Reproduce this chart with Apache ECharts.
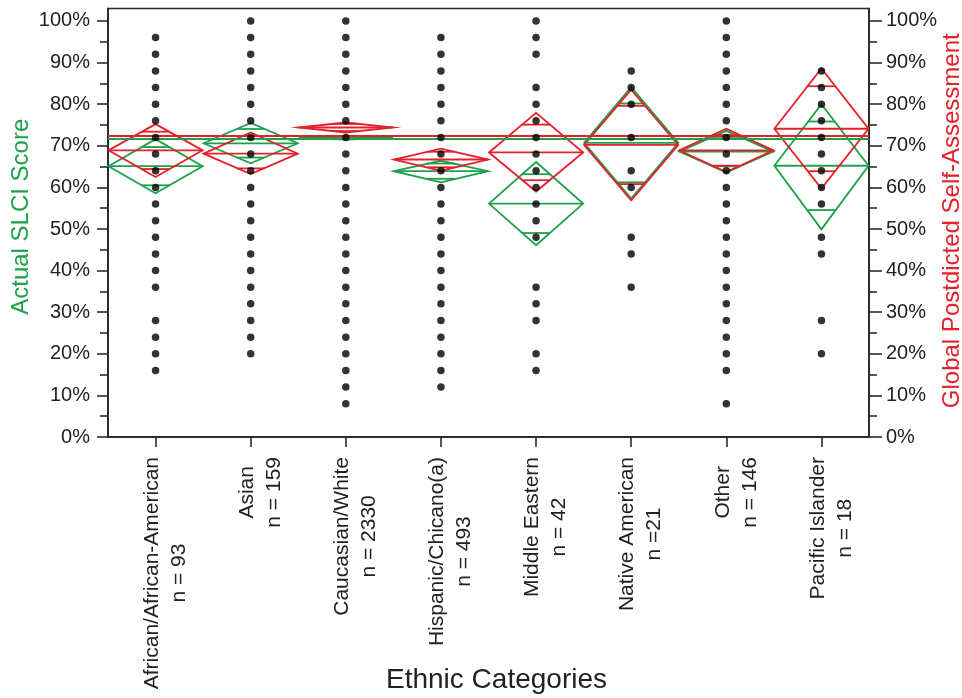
<!DOCTYPE html>
<html>
<head>
<meta charset="utf-8">
<script src="https://cdn.jsdelivr.net/npm/echarts@6/dist/echarts.min.js"></script>
<style>
html,body{margin:0;padding:0;background:#fff;}
#chart{width:962px;height:698px;}
</style>
</head>
<body>
<div id="chart"></div>
<script>
// ---- data ----
const categories = ['African/African-American', 'Asian', 'Caucasian/White', 'Hispanic/Chicano(a)', 'Middle Eastern', 'Native American', 'Other', 'Pacific Islander'];
const sampleLabels = ['n = 93', 'n = 159', 'n = 2330', 'n = 493', 'n = 42', 'n =21', 'n = 146', 'n = 18'];

// Actual SLCI score: group mean and 95% CI (green diamonds)
const actualMean  = [65.1, 70.6, 71.9, 63.9, 56.1, 70.7, 68.6, 65.2];
const actualLower = [58.6, 65.8, 71.5, 61.2, 46.1, 57.3, 63.6, 49.9];
const actualUpper = [71.6, 75.5, 72.3, 66.4, 66.1, 84.1, 73.6, 80.0];

// Global postdicted self-assessment: group mean and 95% CI (red diamonds)
const selfMean  = [68.9, 68.1, 74.4, 66.7, 68.4, 70.2, 68.9, 74.1];
const selfLower = [62.5, 63.2, 73.2, 64.0, 59.0, 56.9, 63.7, 59.7];
const selfUpper = [75.2, 73.2, 75.6, 69.3, 77.9, 83.5, 74.1, 88.6];

// grand means (horizontal reference lines)
const grandMeanActual = 71.7;
const grandMeanSelf = 72.4;

// individual score values present in each group (black dots)
const dotsAfrican  = [96, 92, 88, 84, 80, 76, 72, 68, 64, 60, 56, 52, 48, 44, 40, 36, 28, 24, 20, 16];
const dotsAsian    = [100, 96, 92, 88, 84, 80, 76, 72, 68, 64, 60, 56, 52, 48, 44, 40, 36, 32, 28, 24, 20];
const dotsCaucasian = [100, 96, 92, 88, 84, 80, 76, 72, 68, 64, 60, 56, 52, 48, 44, 40, 36, 32, 28, 24, 20, 16, 12, 8];
const dotsHispanic = [96, 92, 88, 84, 80, 76, 72, 68, 64, 60, 56, 52, 48, 44, 40, 36, 32, 28, 24, 20, 16, 12];
const dotsMiddleEastern = [100, 96, 92, 84, 80, 76, 72, 68, 64, 60, 56, 52, 48, 36, 32, 28, 20, 16];
const dotsNativeAmerican = [88, 84, 80, 72, 64, 60, 48, 44, 36];
const dotsOther    = [100, 96, 92, 88, 84, 80, 76, 72, 68, 64, 60, 56, 52, 48, 44, 40, 36, 32, 28, 24, 20, 16, 8];
const dotsPacific  = [88, 84, 80, 76, 72, 68, 64, 60, 56, 48, 44, 28, 20];
const dotsByGroup = [dotsAfrican, dotsAsian, dotsCaucasian, dotsHispanic, dotsMiddleEastern, dotsNativeAmerican, dotsOther, dotsPacific];

// axis ticks
const majorTicks = [0, 10, 20, 30, 40, 50, 60, 70, 80, 90, 100];
const minorTicks = [5, 15, 25, 35, 45, 55, 65, 75, 85, 95];

// ---- styling ----
const GREEN = '#1fa04a';
const RED = '#e3212b';
const AXIS = '#2b2b2b';
const FONT = '"Liberation Sans", Arial, Helvetica, sans-serif';

function diamondRenderer(color) {
  return function (params, api) {
    const i = api.value(0);
    const m = api.value(1), lo = api.value(2), hi = api.value(3);
    const c = api.coord([i, m]);
    const t = api.coord([i, hi]);
    const b = api.coord([i, lo]);
    const hw = api.size([1, 0])[0] * 0.495;
    const half = (hi - lo) / 2;
    const d = half / Math.SQRT2;
    const st = { stroke: color, lineWidth: 1.8, fill: null };
    const children = [
      { type: 'polygon', shape: { points: [[c[0] - hw, c[1]], [c[0], t[1]], [c[0] + hw, c[1]], [c[0], b[1]]] }, style: Object.assign({}, st, { fill: 'none' }) },
      { type: 'line', shape: { x1: c[0] - hw, y1: c[1], x2: c[0] + hw, y2: c[1] }, style: st }
    ];
    [m + d, m - d].forEach(function (v) {
      const p = api.coord([i, v]);
      const w = hw * (1 - Math.abs(v - m) / half);
      children.push({ type: 'line', shape: { x1: p[0] - w, y1: p[1], x2: p[0] + w, y2: p[1] }, style: st });
    });
    return { type: 'group', children: children };
  };
}

const dotData = [];
dotsByGroup.forEach(function (arr, i) { arr.forEach(function (v) { dotData.push([i, v]); }); });

function yAxisBase(pos, extra) {
  return Object.assign({
    type: 'value', position: pos, min: 0, max: 103, offset: 0,
    splitLine: { show: false },
    nameMoveOverlap: false,
    axisLine: { show: true, lineStyle: { color: AXIS, width: 1.6 } }
  }, extra);
}

const chart = echarts.init(document.getElementById('chart'), null, { renderer: 'canvas' });
chart.setOption({
  animation: false,
  backgroundColor: '#ffffff',
  grid: { left: 108, right: 93, top: 8.5, bottom: 261, containLabel: false, outerBoundsMode: 'none',
          show: true, borderColor: AXIS, borderWidth: 1.6, backgroundColor: 'transparent' },
  xAxis: [
    {
      type: 'category', data: categories, position: 'bottom',
      axisLine: { show: true, lineStyle: { color: AXIS, width: 1.6 } },
      axisTick: { show: true, alignWithLabel: true, length: 10, lineStyle: { color: AXIS, width: 1.6 } },
      axisLabel: {
        interval: 0, rotate: 90, margin: 20, padding: [20, 0, 0, 0],
        formatter: function (v, idx) { return '{l|' + v + '}\n{l|' + sampleLabels[idx] + '}'; },
        rich: { l: { fontSize: 21, lineHeight: 27, align: 'center', color: '#222', fontFamily: FONT } }
      },
      name: 'Ethnic Categories', nameLocation: 'middle', nameGap: 229, nameMoveOverlap: false,
      nameTextStyle: { fontSize: 28, color: '#222', fontFamily: FONT, padding: [0, 0, 0, 16] }
    },
    {
      type: 'category', data: categories, position: 'top',
      axisLine: { show: true, lineStyle: { color: AXIS, width: 1.6 } },
      axisTick: { show: false }, axisLabel: { show: false }
    }
  ],
  yAxis: [
    yAxisBase('left', {
      name: 'Actual SLCI Score', nameLocation: 'middle', nameRotate: 90, nameGap: 75,
      nameTextStyle: { fontSize: 24, color: GREEN, fontFamily: FONT, padding: [0, 0, 0, 12] },
      axisTick: { show: true, length: 11, customValues: majorTicks, lineStyle: { color: AXIS, width: 1.6 } },
      axisLabel: { customValues: majorTicks, formatter: '{value}%', fontSize: 20, color: '#222', fontFamily: FONT, margin: 18 }
    }),
    yAxisBase('left', {
      axisTick: { show: true, length: 8, customValues: minorTicks, lineStyle: { color: AXIS, width: 1.6 } },
      axisLabel: { show: false }
    }),
    yAxisBase('right', {
      name: 'Global Postdicted Self-Assessment', nameLocation: 'middle', nameRotate: 90, nameGap: 71,
      nameTextStyle: { fontSize: 24, color: RED, fontFamily: FONT, padding: [0, 0, 0, 4] },
      axisTick: { show: true, length: 13, customValues: majorTicks, lineStyle: { color: AXIS, width: 1.6 } },
      axisLabel: { customValues: majorTicks, formatter: '{value}%', fontSize: 20, color: '#222', fontFamily: FONT, margin: 17 }
    }),
    yAxisBase('right', {
      axisTick: { show: true, length: 8, customValues: minorTicks, lineStyle: { color: AXIS, width: 1.6 } },
      axisLabel: { show: false }
    })
  ],
  series: [
    {
      name: 'Actual SLCI Score', type: 'custom', xAxisIndex: 0, yAxisIndex: 0, z: 3,
      renderItem: diamondRenderer(GREEN),
      data: categories.map(function (c, i) { return [i, actualMean[i], actualLower[i], actualUpper[i]]; }),
      markLine: { silent: true, symbol: 'none', label: { show: false }, lineStyle: { color: GREEN, width: 2, type: 'solid' }, data: [{ yAxis: grandMeanActual }] }
    },
    {
      name: 'Global Postdicted Self-Assessment', type: 'custom', xAxisIndex: 0, yAxisIndex: 0, z: 4,
      renderItem: diamondRenderer(RED),
      data: categories.map(function (c, i) { return [i, selfMean[i], selfLower[i], selfUpper[i]]; }),
      markLine: { silent: true, symbol: 'none', label: { show: false }, lineStyle: { color: RED, width: 2, type: 'solid' }, data: [{ yAxis: grandMeanSelf }] }
    },
    {
      name: 'Scores', type: 'scatter', xAxisIndex: 0, yAxisIndex: 0, z: 6,
      symbol: 'circle', symbolSize: 7.5, itemStyle: { color: '#000' },
      data: dotData
    }
  ]
});
</script>
</body>
</html>
